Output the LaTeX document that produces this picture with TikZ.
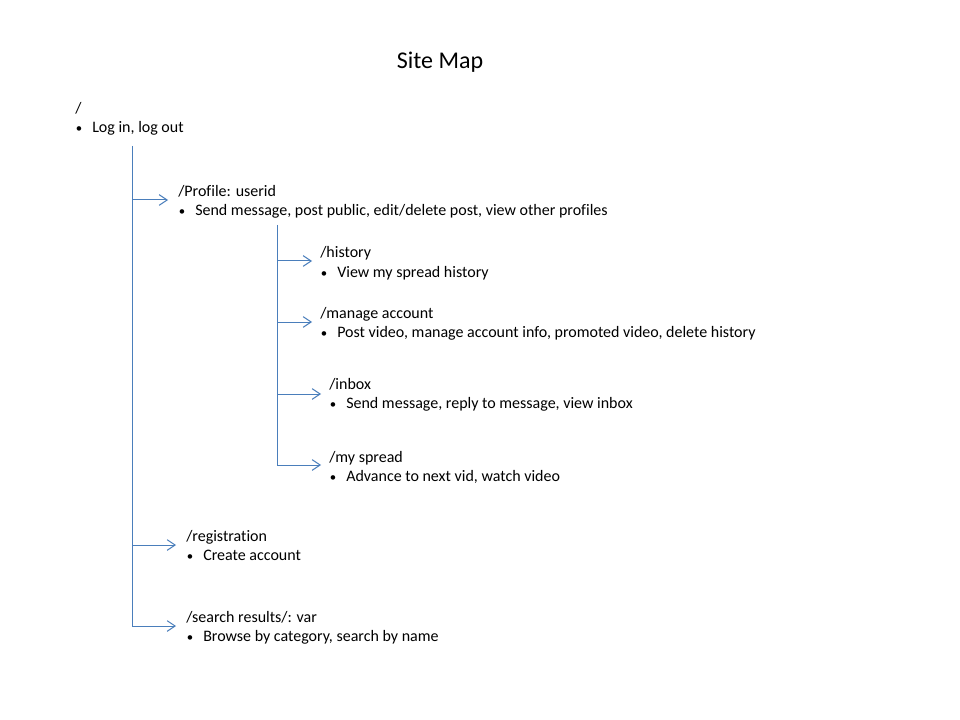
\documentclass[tikz,border=0pt]{standalone}
\usepackage{fontspec}
\setmainfont[Ligatures=NoCommon]{Carlito}
\usetikzlibrary{arrows.meta}
\definecolor{linkblue}{HTML}{4A7EBB}
\newcommand{\blt}{\makebox[10.5pt][l]{\hspace{-1.8pt}\scalebox{0.8}{•}}}
\begin{document}
\begin{tikzpicture}[x=0.75pt,y=-0.75pt,
  lbl/.style={anchor=base west,inner sep=0pt,font=\fontsize{12}{14.4}\selectfont},
  conn/.style={draw=linkblue,line width=0.75pt},
  branch/.style={conn,-{Straight Barb[length=6pt,width=8pt,line width=0.75pt]}}]
\useasboundingbox[fill=white] (0,0) rectangle (960,720);
\node[anchor=base,inner sep=0pt,font=\fontsize{18}{21.6}\selectfont] (title) at (440,69) {Site Map};
% root
\node[lbl] (rootL) at (75,114) {/};
\node[lbl] (rootB) at (78,133) {\blt Log in, log out};
% profile
\node[lbl] (profL) at (178,196.5) {/Profile: userid};
\node[lbl] (profB) at (181,215.5) {\blt Send message, post public, edit/delete post, view other profiles};
% history
\node[lbl] (histL) at (320,258) {/history};
\node[lbl] (histB) at (323,277) {\blt View my spread history};
% manage
\node[lbl] (manL) at (320,318) {/manage account};
\node[lbl] (manB) at (323,337) {\blt Post video, manage account info, promoted video, delete history};
% inbox
\node[lbl] (inbL) at (329,389) {/inbox};
\node[lbl] (inbB) at (332,408) {\blt Send message, reply to message, view inbox};
% my spread
\node[lbl] (mysL) at (329,462) {/my spread};
\node[lbl] (mysB) at (332,481) {\blt Advance to next vid, watch video};
% registration
\node[lbl] (regL) at (186,541) {/registration};
\node[lbl] (regB) at (189,560) {\blt Create account};
% search
\node[lbl] (seaL) at (186,622) {/search results/: var};
\node[lbl] (seaB) at (189,641) {\blt Browse by category, search by name};
% trunk coordinates
\coordinate (t0) at (132,146);
\coordinate (t1) at (132,200);
\coordinate (t2) at (132,545);
\coordinate (t3) at (132,626);
\coordinate (e1) at (168,200);
\coordinate (e2) at (176,545);
\coordinate (e3) at (176,626);
\coordinate (s0) at (277,225);
\coordinate (s1) at (277,261);
\coordinate (s2) at (277,322);
\coordinate (s3) at (277,394);
\coordinate (s4) at (277,465);
\coordinate (f1) at (312,261);
\coordinate (f2) at (312,322);
\coordinate (f3) at (321,394);
\coordinate (f4) at (321,465);
\draw[conn] (t0) -- (t3);
\draw[branch] (t1) -- (e1);
\draw[branch] (t2) -- (e2);
\draw[branch] (t3) -- (e3);
\draw[conn] (s0) -- (s4);
\draw[branch] (s1) -- (f1);
\draw[branch] (s2) -- (f2);
\draw[branch] (s3) -- (f3);
\draw[branch] (s4) -- (f4);
\end{tikzpicture}
\end{document}
